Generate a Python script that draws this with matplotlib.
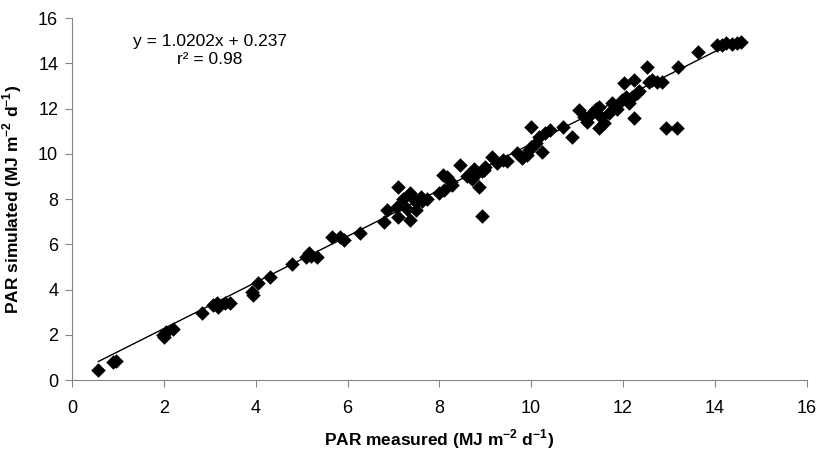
import matplotlib
matplotlib.use("Agg")
import matplotlib.pyplot as plt
import numpy as np

par_measured = [0.57, 0.90, 0.95, 1.98, 2.04, 2.00, 2.20, 2.83, 3.07, 3.15, 3.17, 3.33, 3.43,
                3.91, 3.93, 4.04, 4.30, 4.80, 5.10, 5.15, 5.20, 5.33, 5.67, 5.83, 5.93, 6.28,
                6.80, 6.87, 7.07, 7.09, 7.09, 7.20, 7.35, 7.42, 7.50, 7.60, 7.63, 7.72, 7.35,
                7.50, 7.30, 8.00, 8.10, 8.07, 8.17, 8.26, 8.28, 8.46, 8.60, 8.70, 8.80, 8.93,
                9.00, 8.87, 8.93, 8.76, 8.98, 9.15, 9.25, 9.38, 9.48, 9.70, 9.80, 9.90, 9.96,
                10.00, 10.10, 10.24, 10.00, 10.17, 10.30, 10.40, 10.70, 10.90, 11.04, 11.15,
                11.22, 11.33, 11.41, 11.48, 11.52, 11.59, 11.70, 11.76, 11.87, 11.98, 12.07,
                12.20, 12.30, 11.48, 12.24, 12.93, 13.17, 12.52, 12.24, 12.02, 12.35, 12.13,
                12.57, 12.63, 12.74, 12.85, 13.20, 13.63, 14.04, 14.15, 14.24, 14.37, 14.48, 14.56]
par_simulated = [0.44, 0.80, 0.86, 1.99, 2.12, 1.90, 2.26, 2.96, 3.32, 3.40, 3.25, 3.40, 3.42,
                 3.89, 3.78, 4.29, 4.55, 5.13, 5.42, 5.60, 5.48, 5.45, 6.32, 6.34, 6.19, 6.52,
                 7.00, 7.51, 7.64, 7.20, 8.55, 8.00, 8.25, 8.05, 7.85, 8.10, 7.90, 8.00, 7.07,
                 7.50, 7.55, 8.26, 8.40, 9.06, 8.97, 8.75, 8.62, 9.50, 9.00, 8.90, 9.10, 9.25,
                 9.40, 8.55, 7.25, 9.35, 9.30, 9.85, 9.60, 9.75, 9.70, 10.03, 9.80, 9.94, 10.16,
                 10.30, 10.47, 10.07, 11.18, 10.74, 10.92, 11.05, 11.18, 10.74, 11.93, 11.62,
                 11.40, 11.80, 12.00, 12.06, 11.62, 11.36, 11.80, 12.24, 12.00, 12.37, 12.50,
                 12.50, 12.68, 11.14, 11.60, 11.14, 11.14, 13.83, 13.26, 13.12, 12.80, 12.24,
                 13.17, 13.26, 13.17, 13.17, 13.83, 14.50, 14.80, 14.80, 14.90, 14.85, 14.90, 14.95]
slope = 1.0202
intercept = 0.237
eq_text = "y = 1.0202x + 0.237"
r2_text = "r² = 0.98"
x_ticks = [0, 2, 4, 6, 8, 10, 12, 14, 16]
y_ticks = [0, 2, 4, 6, 8, 10, 12, 14, 16]

plt.rcParams['font.family'] = ['Liberation Sans', 'DejaVu Sans']
plt.rcParams['mathtext.fontset'] = 'custom'
plt.rcParams['mathtext.rm'] = 'Liberation Sans'
plt.rcParams['mathtext.bf'] = 'Liberation Sans:bold'

fig = plt.figure(figsize=(8.29, 4.53), dpi=100)
ax = fig.add_axes([0.087, 0.161, 0.886, 0.799])

ax.scatter(par_measured, par_simulated, marker='D', s=55, color='black', zorder=3, linewidths=0)
xl = np.array([min(par_measured), max(par_measured)])
ax.plot(xl, slope * xl + intercept, color='black', lw=1, zorder=2)

ax.set_xlim(0, 16)
ax.set_ylim(0, 16)
ax.set_xticks(x_ticks)
ax.set_yticks(y_ticks)
for s in ['top', 'right']:
    ax.spines[s].set_visible(False)
for s in ['left', 'bottom']:
    ax.spines[s].set_color('#868686')
ax.tick_params(axis='both', direction='out', length=5, color='#868686', labelsize=13, labelcolor='black')
ax.tick_params(axis='x', pad=9)
ax.tick_params(axis='y', pad=5)

ax.set_xlabel("PAR measured (MJ m$^{\\mathbf{-2}}$ d$^{\\mathbf{-1}}$)", fontsize=12.5, fontweight='bold', labelpad=8)
ax.set_ylabel("PAR simulated (MJ m$^{\\mathbf{-2}}$ d$^{\\mathbf{-1}}$)", fontsize=12.5, fontweight='bold', labelpad=10)

ax.text(3.0, 14.95, eq_text, ha='center', va='center', fontsize=12.5)
ax.text(3.0, 14.15, r2_text, ha='center', va='center', fontsize=12.5)

fig.savefig("out.png", dpi=100)
